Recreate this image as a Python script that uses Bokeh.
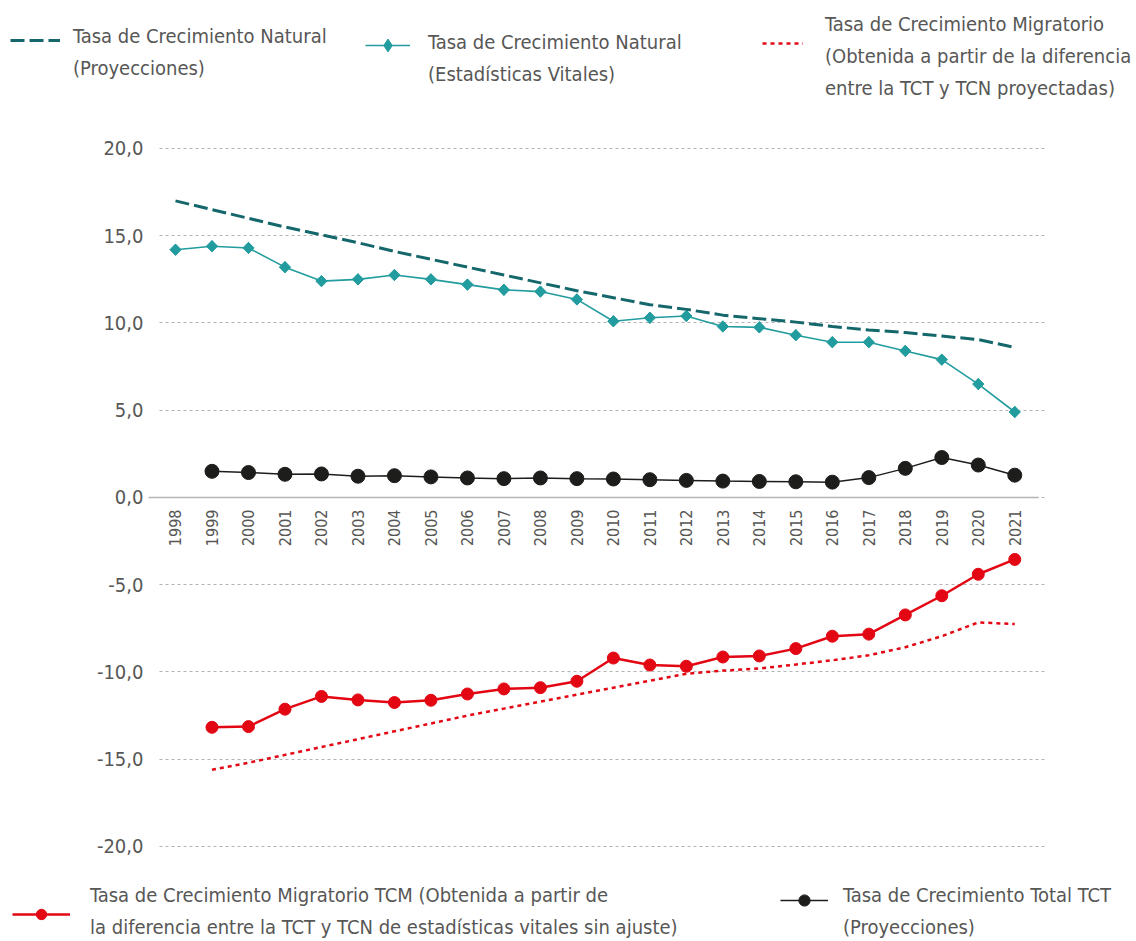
import math
from bokeh.plotting import figure
from bokeh.models import Legend, LegendItem, Range1d, FixedTicker, Grid
from bokeh.embed import file_html
from bokeh.resources import INLINE

FONT = "DejaVu Sans Condensed, Roboto"
TXT = "#575756"

years = list(range(1998, 2022))
years2 = list(range(1999, 2022))
tick_labels = [str(y) for y in years]

tcn_proy = [17.0, 16.5, 16.0, 15.5, 15.05, 14.6, 14.1, 13.65, 13.2, 12.75, 12.3, 11.85,
            11.45, 11.05, 10.78, 10.45, 10.25, 10.05, 9.8, 9.6, 9.45, 9.25, 9.05, 8.6]
tcn_ev = [14.2, 14.4, 14.3, 13.2, 12.4, 12.5, 12.75, 12.5, 12.2, 11.9, 11.8, 11.35,
          10.1, 10.3, 10.4, 9.8, 9.75, 9.3, 8.9, 8.9, 8.4, 7.9, 6.5, 4.9]
tct = [1.5, 1.43, 1.33, 1.35, 1.22, 1.25, 1.18, 1.12, 1.08, 1.12, 1.08, 1.06,
       1.02, 0.98, 0.94, 0.92, 0.9, 0.88, 1.14, 1.67, 2.29, 1.86, 1.28]
tcm_ev = [-13.17, -13.13, -12.13, -11.4, -11.6, -11.75, -11.62, -11.26, -10.97, -10.9, -10.53, -9.2,
          -9.6, -9.67, -9.14, -9.08, -8.66, -7.95, -7.83, -6.73, -5.63, -4.4, -3.55]
tcm_proy = [-15.6, -15.2, -14.75, -14.3, -13.85, -13.4, -12.95, -12.5, -12.1, -11.7, -11.3, -10.9,
            -10.5, -10.1, -9.92, -9.8, -9.57, -9.33, -9.04, -8.58, -7.95, -7.16, -7.25]

yticks = [-20, -15, -10, -5, 0, 5, 10, 15, 20]
ytick_labels = ["-20,0", "-15,0", "-10,0", "-5,0", "0,0", "5,0", "10,0", "15,0", "20,0"]

lbl1 = ["Tasa de Crecimiento Natural", "(Proyecciones)"]
lbl2 = ["Tasa de Crecimiento Natural", "(Estadísticas Vitales)"]
lbl3 = ["Tasa de Crecimiento Migratorio", "(Obtenida a partir de la diferencia",
        "entre la TCT y TCN proyectadas)"]
lbl4 = ["Tasa de Crecimiento Migratorio TCM (Obtenida a partir de",
        "la diferencia entre la TCT y TCN de estadísticas vitales sin ajuste)"]
lbl5 = ["Tasa de Crecimiento Total TCT", "(Proyecciones)"]

TEAL_D = "#14676b"
TEAL = "#229c9e"
RED = "#e30613"
BLACK = "#1d1d1b"
GRID_C = "#b3b3b3"

W, H = 1136, 940
# data window: the plot frame fills the whole canvas; the grid occupies the middle
X0, X1 = 1993.204, 2024.336
Y0, Y1 = -25.387, 28.481
GRID_X = (1997.56, 2021.82)
AXIS_X = (1997.26, 2021.66)

p = figure(width=W, height=H, output_backend="svg", toolbar_location=None,
           x_range=Range1d(X0, X1), y_range=Range1d(Y0, Y1),
           min_border=0, min_border_left=0, min_border_right=0,
           min_border_top=0, min_border_bottom=0)
p.outline_line_color = None

p.xgrid.grid_line_color = None
yg = p.ygrid[0]
if "cross_bounds" in Grid.properties():
    yg.ticker = FixedTicker(ticks=yticks)
    yg.cross_bounds = GRID_X
    yg.grid_line_color = GRID_C
    yg.grid_line_dash = "3 3"
    yg.grid_line_width = 1
else:
    yg.grid_line_color = None
    p.segment(x0=[GRID_X[0]] * len(yticks), x1=[GRID_X[1]] * len(yticks),
              y0=yticks, y1=yticks, line_color=GRID_C, line_dash="3 3", line_width=1)

ya = p.yaxis[0]
ya.fixed_location = GRID_X[0]
ya.ticker = FixedTicker(ticks=yticks)
ya.major_label_overrides = {t: l for t, l in zip(yticks, ytick_labels)}
ya.axis_line_color = None
ya.major_tick_line_color = None
ya.minor_tick_line_color = None
ya.major_tick_out = 0
ya.major_label_standoff = 16
ya.major_label_text_font = FONT
ya.major_label_text_font_size = "20px"
ya.major_label_text_color = TXT

xa = p.xaxis[0]
xa.fixed_location = 0
xa.bounds = AXIS_X
xa.ticker = FixedTicker(ticks=years)
xa.major_label_overrides = {y: l for y, l in zip(years, tick_labels)}
xa.major_label_orientation = math.pi / 2
xa.axis_line_color = "#b5b5b5"
xa.axis_line_width = 1.5
xa.major_tick_line_color = None
xa.minor_tick_line_color = None
xa.major_tick_out = 0
xa.major_label_standoff = 12
xa.major_label_text_font = FONT
xa.major_label_text_font_size = "16px"
xa.major_label_text_color = TXT

r1 = p.line(years, tcn_proy, line_color=TEAL_D, line_width=3, line_dash="14 5")
r2l = p.line(years, tcn_ev, line_color=TEAL, line_width=1.6)
r2d = p.scatter(years, tcn_ev, marker="diamond", size=11, color=TEAL)
p.scatter(years, tcn_ev, marker="square", angle=math.pi / 4, size=8, color=TEAL)
r3 = p.line(years2, tcm_proy, line_color=RED, line_width=2.5, line_dash="4 4")
r4l = p.line(years2, tcm_ev, line_color=RED, line_width=2.5)
r4m = p.scatter(years2, tcm_ev, marker="circle", size=12, color=RED)
r5l = p.line(years2, tct, line_color=BLACK, line_width=1.5)
r5m = p.scatter(years2, tct, marker="circle", size=14, color=BLACK)

ghost = p.line([], [], line_alpha=0)


def legend_text(lines, x, y_bottom):
    leg = Legend(items=[LegendItem(label=t, renderers=[ghost]) for t in lines],
                 location=(x, y_bottom), orientation="vertical",
                 glyph_width=0, glyph_height=1, label_standoff=0,
                 label_height=1, label_width=1,
                 padding=0, margin=0, spacing=8,
                 border_line_color=None, background_fill_alpha=0,
                 label_text_font=FONT, label_text_font_size="20px",
                 label_text_color=TXT)
    p.add_layout(leg, "center")


def legend_glyph(renderers, x, y_screen, gw, gh=24):
    leg = Legend(items=[LegendItem(label=" ", renderers=renderers)],
                 location=(x, H - y_screen - gh / 2), orientation="vertical",
                 glyph_width=gw, glyph_height=gh, label_standoff=0,
                 label_height=1, label_width=1,
                 padding=0, margin=0, spacing=0,
                 border_line_color=None, background_fill_alpha=0,
                 label_text_font_size="1px")
    p.add_layout(leg, "center")


legend_glyph([r1], 10, 40, 50)
legend_text(lbl1, 73, 860)
legend_glyph([r2l, r2d], 365, 45, 45, 32)
legend_text(lbl2, 428, 854)
legend_glyph([r3], 762, 43, 41)
legend_text(lbl3, 825, 840)
legend_glyph([r4l, r4m], 12, 914, 58, 26)
legend_text(lbl4, 90, 1)
legend_glyph([r5l, r5m], 780, 900, 48, 28)
legend_text(lbl5, 843, 1)

open("out.html", "w").write(file_html(p, INLINE))
